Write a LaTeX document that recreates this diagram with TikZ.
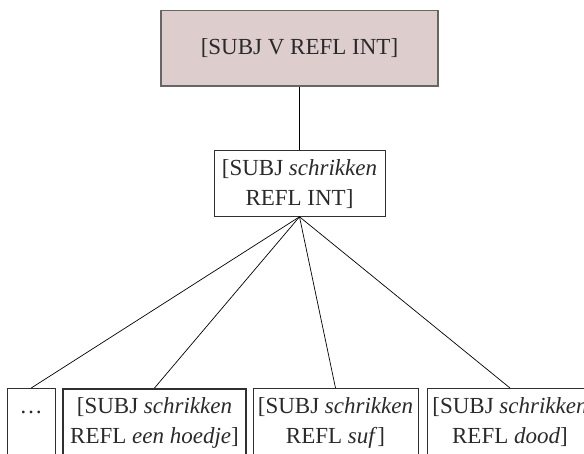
\documentclass[tikz,border=0pt]{standalone}
\usepackage{fontspec}
\setmainfont{Liberation Serif}
\definecolor{topfill}{HTML}{DECDCD}
\definecolor{topline}{HTML}{666666}
\definecolor{txt}{HTML}{2A2A2A}
\definecolor{boxline}{HTML}{303030}
\newcommand{\twolines}[3]{\parbox[t][#1][t]{#2}{\centering\vphantom{[}#3}}
\begin{document}
\begin{tikzpicture}[x=1pt,y=-1pt,
  every node/.style={font=\fontsize{23}{30}\selectfont, text=txt, inner xsep=0pt},
  topbox/.style={draw=topline, fill=topfill, line width=1.2pt, minimum width=277pt, minimum height=75.5pt},
  midbox/.style={draw=boxline, line width=0.8pt, anchor=north, inner ysep=9pt},
  leafbox/.style={draw=boxline, line width=0.8pt, anchor=north, inner ysep=9pt},
  link/.style={draw=black, line width=0.7pt}
]
\useasboundingbox (0,0) rectangle (584,454);
\clip (0,0) rectangle (584,454);
\node[topbox] (top) at (299.5,48.25) {[SUBJ V REFL INT]};
\node[midbox] (mid) at (299.5,150) {\twolines{48pt}{171pt}{[SUBJ \textit{schrikken}\\REFL INT]}};
\node[leafbox] (b1) at (31.25,388) {\twolines{90pt}{47.5pt}{\dots}};
\node[leafbox, line width=1.8pt] (b2) at (154.5,388) {\twolines{90pt}{183pt}{[SUBJ \textit{schrikken}\\REFL \textit{een hoedje}]}};
\node[leafbox] (b3) at (335.5,388) {\twolines{90pt}{165pt}{[SUBJ \textit{schrikken}\\REFL \textit{suf}]}};
\node[leafbox] (b4) at (510,388) {\twolines{90pt}{166pt}{[SUBJ \textit{schrikken}\\REFL \textit{dood}]}};
\draw[link] (top.south) -- (mid.north);
\draw[link] (mid.south) -- (b1.north);
\draw[link] (mid.south) -- (b2.north);
\draw[link] (mid.south) -- (b3.north);
\draw[link] (mid.south) -- (b4.north);
\end{tikzpicture}
\end{document}
